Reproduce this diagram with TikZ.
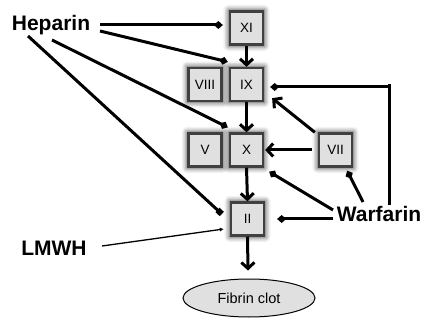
\documentclass[tikz,border=0pt]{standalone}
\usepackage{fontspec}
\setmainfont{Liberation Sans}
\usetikzlibrary{arrows.meta,shapes.geometric,shadows.blur,calc}
\begin{document}
\begin{tikzpicture}[x=1pt,y=-1pt,
  fac/.style={draw=black!75, line width=2.3pt, fill=black!12, minimum size=33pt, inner sep=0pt,
    font=\fontsize{13.5}{13.5}\selectfont,
    blur shadow={shadow xshift=0pt, shadow yshift=0pt, shadow blur radius=5pt, shadow opacity=80, shadow scale=1.08}},
  drug/.style={font=\bfseries\fontsize{21}{21}\selectfont, inner sep=2pt, anchor=base},
  act/.style={line width=3pt, -{Straight Barb[length=6pt,width=13pt,line width=3pt]}},
  inh/.style={line width=3pt, -{Diamond[length=9pt,width=8pt]}},
  inhs/.style={line width=3pt, -{Square[length=6pt,width=6pt]}}
]
\useasboundingbox (0,0) rectangle (425,320);
\node[fac] (XI) at (246.5,28) {XI};
\node[fac] (VIII) at (205,84.5) {VIII};
\node[fac] (IX) at (246.5,84.5) {IX};
\node[fac] (V) at (205,150) {V};
\node[fac] (X) at (246.5,150) {X};
\node[fac] (VII) at (335.5,150) {VII};
\node[fac] (II) at (247.5,219) {II};
\node[draw=black, line width=1pt, fill=black!12, ellipse, minimum width=132pt, minimum height=38pt, inner sep=0pt,
  font=\fontsize{14.5}{14.5}\selectfont] (clot) at (249,298) {Fibrin clot};
\node[drug] (hep) at (51,31) {Heparin};
\node[drug] (lmwh) at (54,255) {LMWH};
\node[drug] (warf) at (379,222) {Warfarin};

\coordinate (h1) at (100,25);
\coordinate (h2) at (100,31);
\coordinate (h3) at (52,40);
\coordinate (h4) at (28,36);
\coordinate (l1) at (102,246);
\coordinate (w1) at (389,205);
\coordinate (w2) at (333,219);
\coordinate (w3) at (333,210);
\coordinate (w4) at (363,202);

\draw[inh] (h1) -- ($(XI.west)+(-6,-3)$);
\draw[inh] (h2) -- ($(IX.north west)+(-1,-5)$);
\draw[inh] (h3) -- ($(X.north west)+(-1,-5)$);
\draw[inhs] (h4) -- ($(II.west)+(-8,-5)$);
\draw[line width=1.3pt, -{Latex[length=4pt,width=4pt]}] (l1) -- ($(II.west)+(-6,10)$);

\draw[act] (XI.south) -- (IX.north);
\draw[act] (IX.south) -- (X.north);
\draw[act] (X.south) -- (II.north);
\draw[act] (II.south) -- ($(clot.north)+(-1,-8)$);
\draw[act] ($(VII.west)+(-6,0)$) -- ($(X.east)+(1,0)$);
\draw[act] ($(VII.north west)+(-3,0)$) -- ($(IX.south east)+(8,-4)$);

\draw[inh] (w1) -- (w1 |- IX.east) ++(0,2.5) -- ($(IX.east)+(6,2.5)$);
\draw[inh] (w2) -- ($(II.east)+(12,0)$);
\draw[inh] (w3) -- ($(X.south east)+(5,4)$);
\draw[inh] (w4) -- ($(VII.south east)+(-6,3)$);
\end{tikzpicture}
\end{document}
